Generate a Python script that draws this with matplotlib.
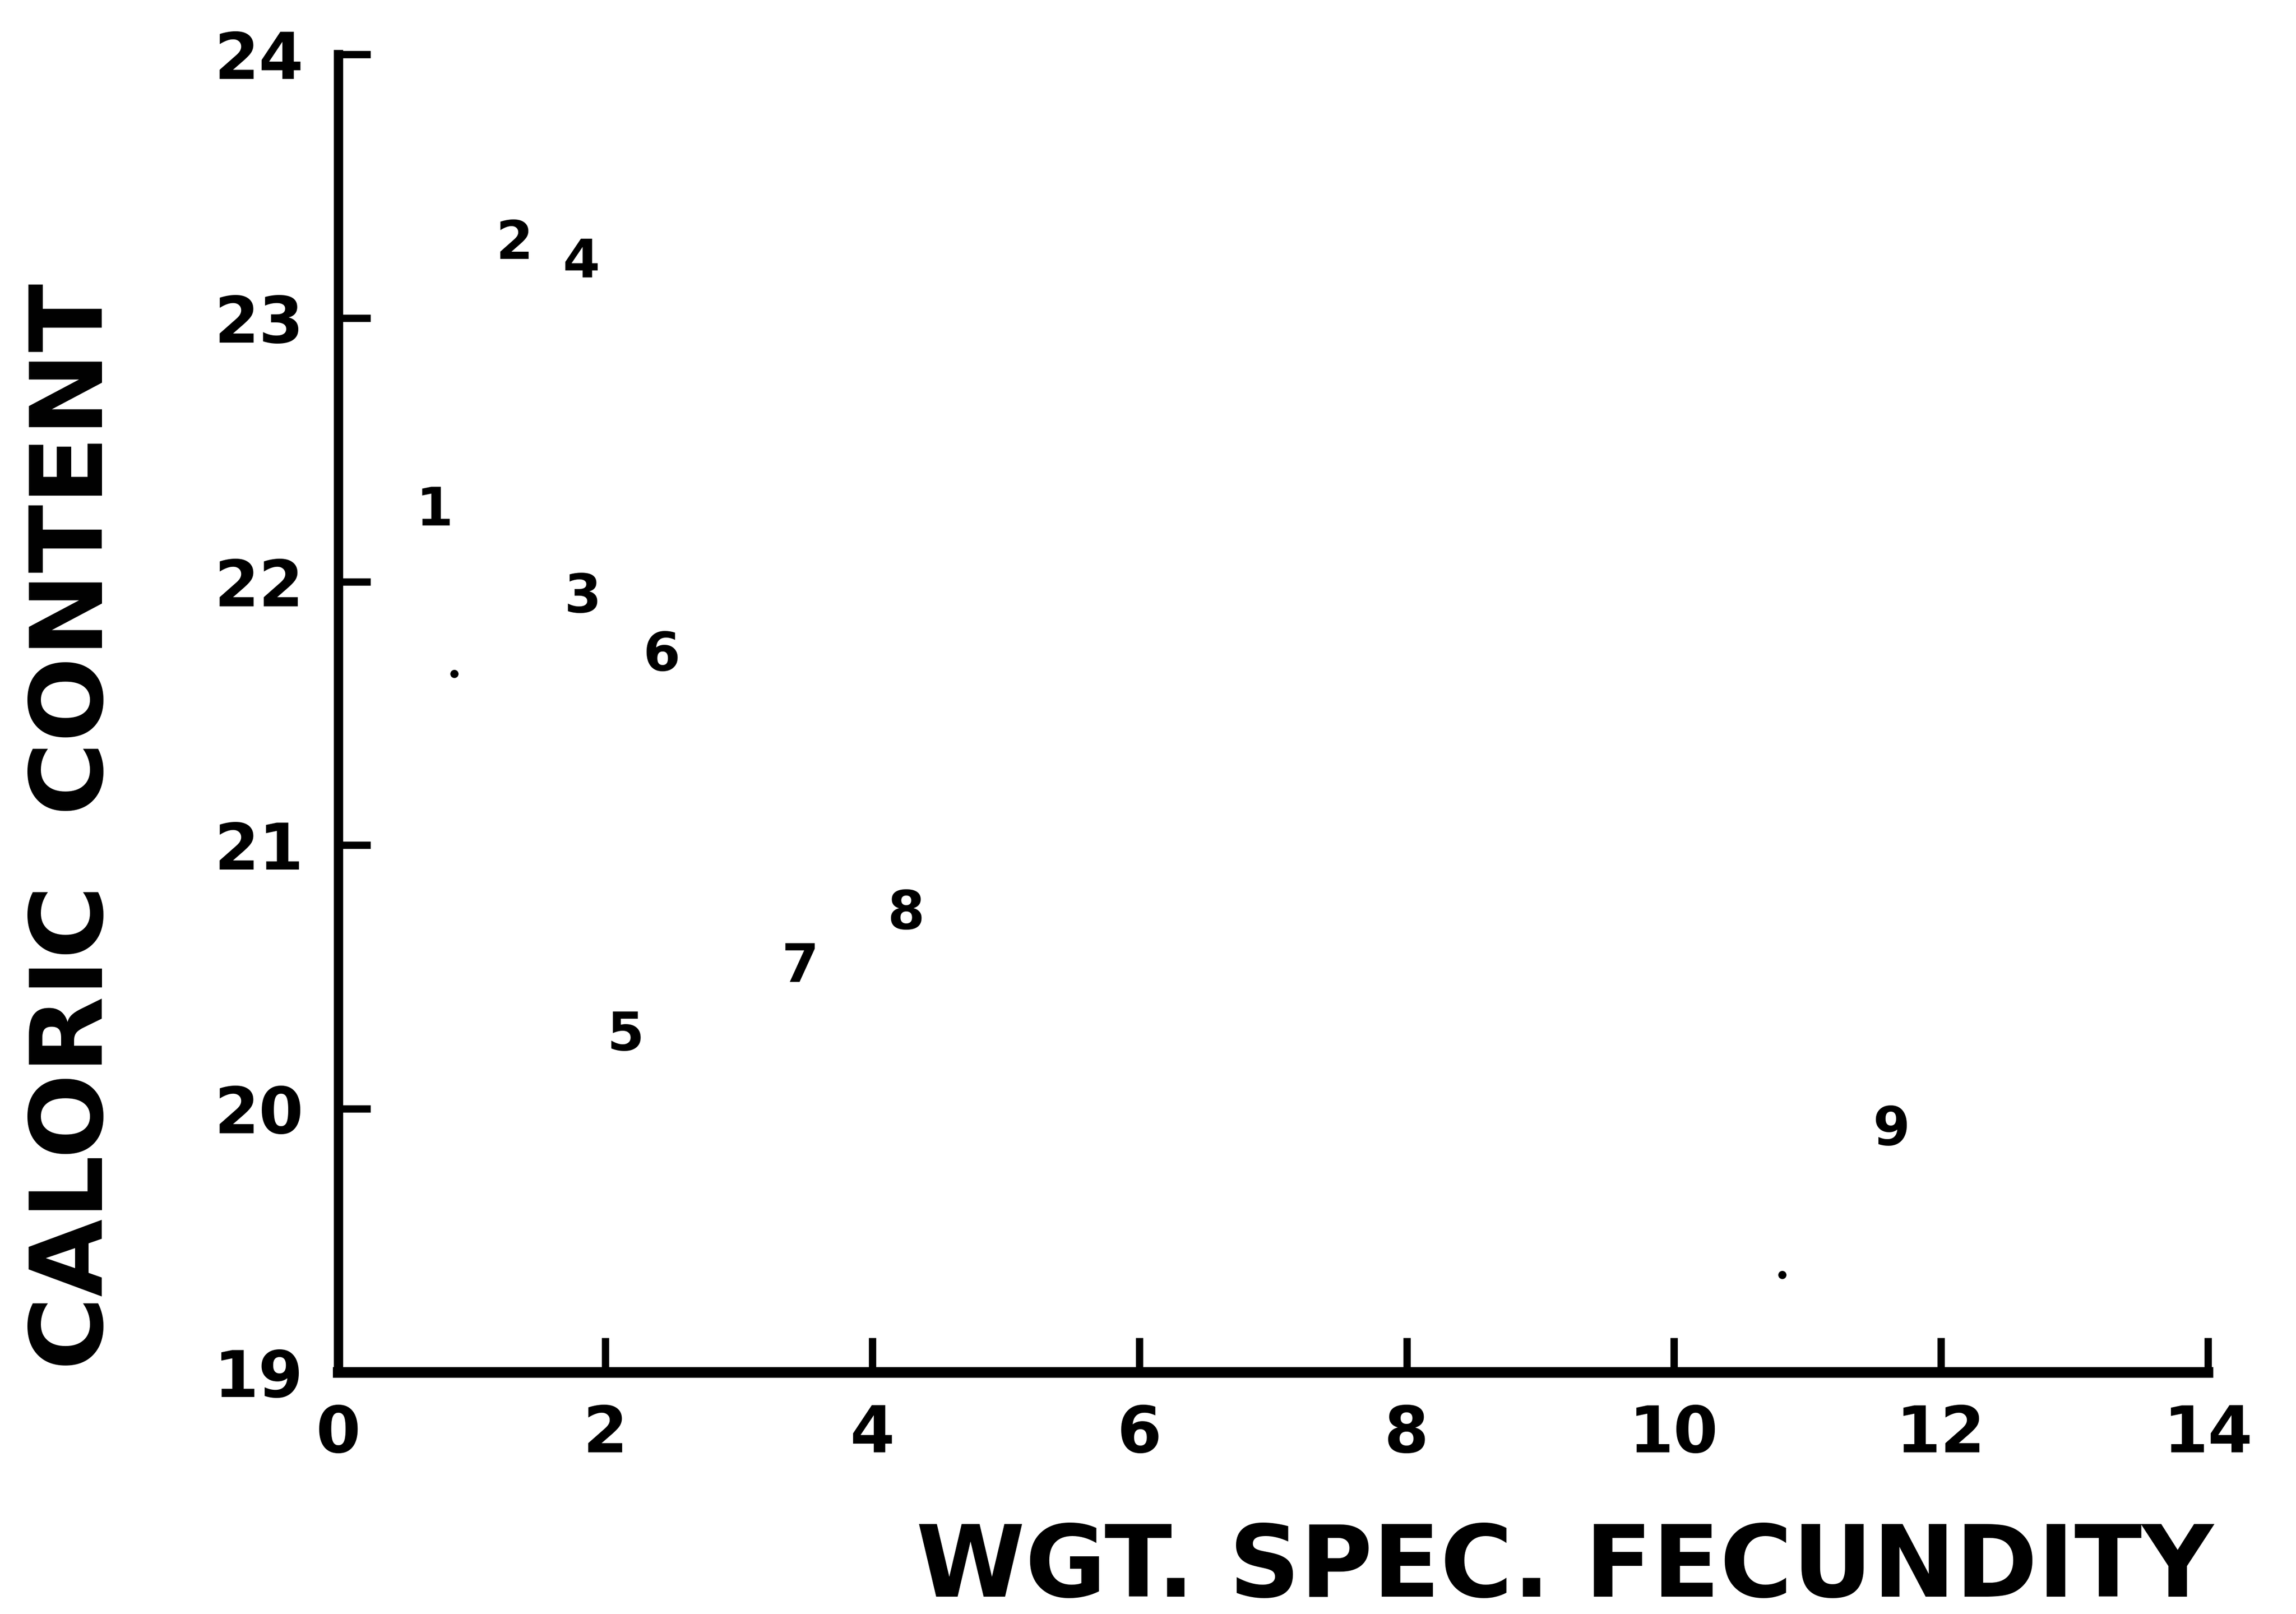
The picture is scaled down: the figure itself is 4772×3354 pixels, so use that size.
import matplotlib
matplotlib.use("Agg")
import matplotlib.pyplot as plt

# Station data: weight-specific fecundity vs caloric content
station_labels = ["1", "2", "3", "4", "5", "6", "7", "8", "9"]
fecundity = [0.72, 1.32, 1.83, 1.82, 2.15, 2.42, 3.46, 4.25, 11.63]
caloric = [22.29, 23.30, 21.96, 23.23, 20.30, 21.74, 20.56, 20.76, 19.94]

# Small unlabeled dots on the plot
dot_x = [0.87, 10.81]
dot_y = [21.65, 19.37]

x_ticks = [0, 2, 4, 6, 8, 10, 12, 14]
y_ticks = [19, 20, 21, 22, 23, 24]

plt.rcParams["font.family"] = ["DejaVu Sans"]
plt.rcParams["font.weight"] = "bold"

fig = plt.figure(figsize=(47.72, 33.54), dpi=100, facecolor="white")
ax = fig.add_axes([0.1473, 0.1497, 0.8144, 0.8166])

ax.set_xlim(0, 14)
ax.set_ylim(19, 24)

for side in ("top", "right"):
    ax.spines[side].set_visible(False)
ax.spines["left"].set_linewidth(14)
ax.spines["bottom"].set_linewidth(16)
for side in ("left", "bottom"):
    ax.spines[side].set_color("black")
    ax.spines[side].set_capstyle("projecting")

ax.set_xticks(x_ticks)
ax.set_yticks(y_ticks)
ax.set_xticklabels([str(t) for t in x_ticks])
ax.set_yticklabels([str(t) for t in y_ticks])
ax.tick_params(axis="both", direction="in", width=11, color="black",
               labelsize=96, labelcolor="black")
ax.tick_params(axis="x", length=52, pad=46)
ax.tick_params(axis="y", length=48, pad=52)
for lbl in ax.get_xticklabels() + ax.get_yticklabels():
    lbl.set_fontweight("bold")

# Station numbers used as plot symbols
for lab, xv, yv in zip(station_labels, fecundity, caloric):
    ax.text(xv, yv, lab, ha="center", va="center_baseline",
            fontsize=80, fontweight="bold", color="black")

ax.scatter(dot_x, dot_y, s=150, color="black", marker="o", linewidths=0)

ax.set_xlabel("WGT. SPEC. FECUNDITY", fontsize=148, fontweight="bold")
ax.xaxis.label.set_ha("right")
ax.xaxis.label.set_va("baseline")
ax.xaxis.set_label_coords(1.003, -0.170)

ax.set_ylabel("CALORIC  CONTENT", fontsize=150, fontweight="bold",
              rotation=90, rotation_mode="anchor")
ax.yaxis.label.set_ha("center")
ax.yaxis.label.set_va("baseline")
ax.yaxis.set_label_coords(-0.126, 0.414)

fig.savefig("out.png", dpi=100, facecolor="white")
